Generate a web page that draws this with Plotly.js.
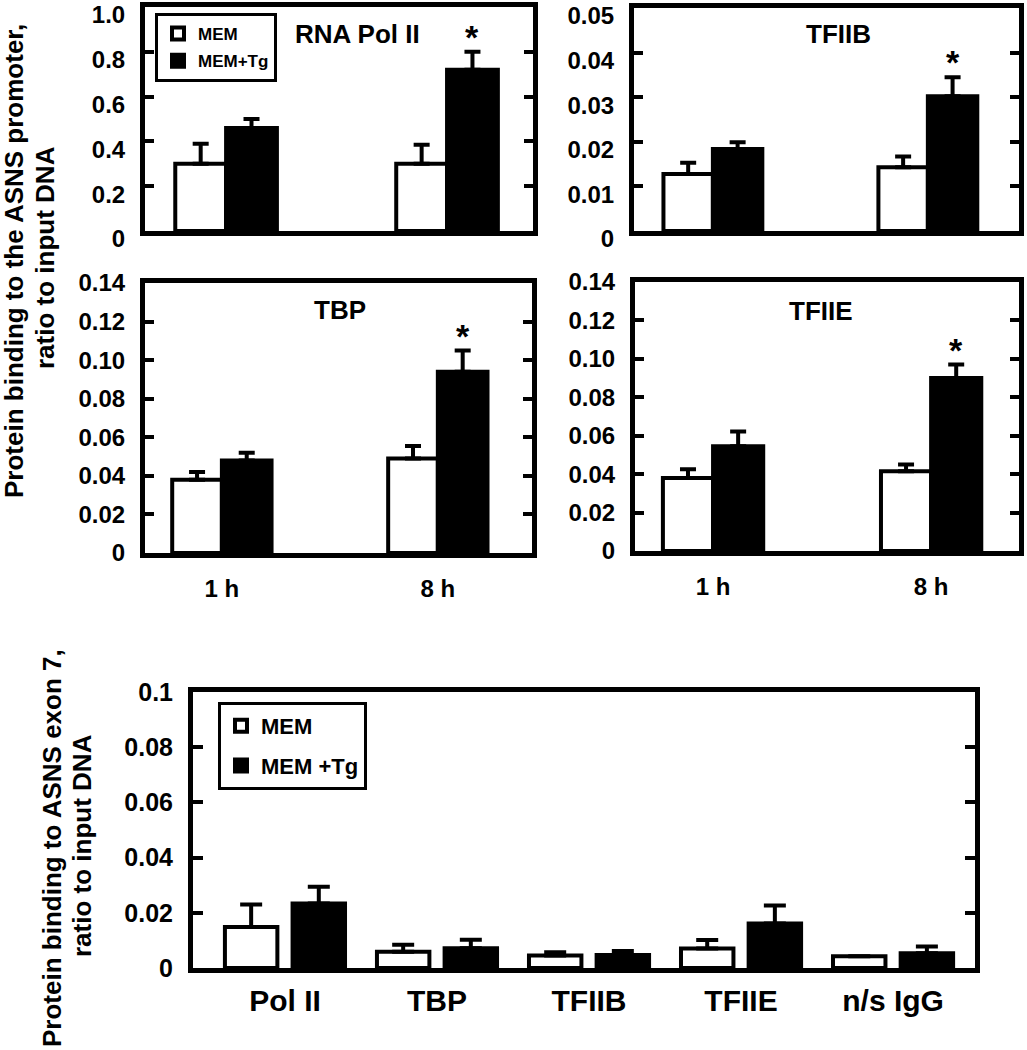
<!DOCTYPE html>
<html>
<head>
<meta charset="utf-8">
<script src="https://cdn.plot.ly/plotly-3.0.1.min.js"></script>
<style>html,body{margin:0;padding:0;background:#fff;}#chart{width:1027px;height:1050px;}</style>
</head>
<body>
<div id="chart"></div>
<script>
// ---------- DATA ----------
const times = ['1 h', '8 h'];

const polII_MEM = [0.30, 0.30];
const polII_MEM_err = [0.09, 0.085];
const polII_Tg = [0.46, 0.72];
const polII_Tg_err = [0.04, 0.08];

const tfiib_MEM = [0.0128, 0.0143];
const tfiib_MEM_err = [0.0025, 0.0024];
const tfiib_Tg = [0.0184, 0.0302];
const tfiib_Tg_err = [0.0015, 0.0043];

const tbp_MEM = [0.038, 0.049];
const tbp_MEM_err = [0.004, 0.0065];
const tbp_Tg = [0.048, 0.094];
const tbp_Tg_err = [0.004, 0.011];

const tfiie_MEM = [0.038, 0.0415];
const tfiie_MEM_err = [0.0046, 0.0035];
const tfiie_Tg = [0.0545, 0.090];
const tfiie_Tg_err = [0.0077, 0.007];

const significantTg = [false, true];   // asterisk above MEM+Tg bar

const factors = ['Pol II', 'TBP', 'TFIIB', 'TFIIE', 'n/s IgG'];
const exon_MEM = [0.0149, 0.0059, 0.0045, 0.0071, 0.0043];
const exon_MEM_err = [0.0081, 0.0025, 0.0012, 0.003, 0];
const exon_Tg = [0.0234, 0.0072, 0.0047, 0.0161, 0.0053];
const exon_Tg_err = [0.006, 0.003, 0.0015, 0.0065, 0.0025];

const ticks_polII = [0, 0.2, 0.4, 0.6, 0.8, 1.0];
const ticks_polII_text = ['0', '0.2', '0.4', '0.6', '0.8', '1.0'];
const ticks_tfiib = [0, 0.01, 0.02, 0.03, 0.04, 0.05];
const ticks_tfiib_text = ['0', '0.01', '0.02', '0.03', '0.04', '0.05'];
const ticks_014 = [0, 0.02, 0.04, 0.06, 0.08, 0.10, 0.12, 0.14];
const ticks_014_text = ['0', '0.02', '0.04', '0.06', '0.08', '0.10', '0.12', '0.14'];
const ticks_exon = [0, 0.02, 0.04, 0.06, 0.08, 0.1];
const ticks_exon_text = ['0', '0.02', '0.04', '0.06', '0.08', '0.1'];

// ---------- LAYOUT HELPERS ----------
const W = 1027, H = 1050;
const FONT = 'Liberation Sans, Arial, Helvetica, sans-serif';
const px = v => v / W;
const py = v => 1 - v / H;

const panels = [
  {title: 'RNA Pol II', mem: polII_MEM, memErr: polII_MEM_err, tg: polII_Tg, tgErr: polII_Tg_err,
   tv: ticks_polII, tt: ticks_polII_text, ymax: 1.0, xd: [145, 533], yd: [7, 231], xr: [-0.367, 1.389],
   showX: false, tpos: [357, 34], lshift: 8},
  {title: 'TFIIB', mem: tfiib_MEM, memErr: tfiib_MEM_err, tg: tfiib_Tg, tgErr: tfiib_Tg_err,
   tv: ticks_tfiib, tt: ticks_tfiib_text, ymax: 0.05, xd: [634, 1019], yd: [8, 231], xr: [-0.367, 1.424],
   showX: false, tpos: [838, 34], lshift: 8},
  {title: 'TBP', mem: tbp_MEM, memErr: tbp_MEM_err, tg: tbp_Tg, tgErr: tbp_Tg_err,
   tv: ticks_014, tt: ticks_014_text, ymax: 0.14, xd: [145, 532], yd: [283, 553], xr: [-0.356, 1.436],
   showX: true, tpos: [340, 310], lshift: 0},
  {title: 'TFIIE', mem: tfiie_MEM, memErr: tfiie_MEM_err, tg: tfiie_Tg, tgErr: tfiie_Tg_err,
   tv: ticks_014, tt: ticks_014_text, ymax: 0.14, xd: [635, 1019], yd: [282, 551], xr: [-0.358, 1.403],
   showX: true, tpos: [821, 311], lshift: 0}
];

const BW = 0.23;
const data = [];
const layout = {
  width: W, height: H,
  margin: {l: 0, r: 0, t: 0, b: 0},
  paper_bgcolor: 'white', plot_bgcolor: 'white',
  font: {family: FONT, color: 'black', weight: 'bold'},
  showlegend: true,
  annotations: [],
  legend: {
    x: px(155), y: py(13), xanchor: 'left', yanchor: 'top',
    bgcolor: 'white', bordercolor: 'black', borderwidth: 3,
    font: {family: FONT, size: 17, color: 'black', weight: 'bold'},
    itemwidth: 30, tracegroupgap: 2, traceorder: 'grouped'
  },
  legend2: {
    x: px(218), y: py(702), xanchor: 'left', yanchor: 'top',
    bgcolor: 'white', bordercolor: 'black', borderwidth: 3,
    font: {family: FONT, size: 22, color: 'black', weight: 'bold'},
    itemwidth: 30, tracegroupgap: 8, traceorder: 'grouped'
  }
};

function axisStyles(i, p) {
  const sfx = i === 0 ? '' : String(i + 1);
  layout['xaxis' + sfx] = {
    domain: [px(p.xd[0]), px(p.xd[1])], anchor: 'y' + sfx,
    type: 'category', range: p.xr,
    showline: true, linecolor: 'black', linewidth: 5, mirror: true,
    ticks: '', showgrid: false, zeroline: false,
    showticklabels: p.showX, ticklabelstandoff: 10,
    tickfont: {family: FONT, size: 24, color: 'black', weight: 'bold'},
    fixedrange: true
  };
  layout['yaxis' + sfx] = {
    domain: [py(p.yd[1]), py(p.yd[0])], anchor: 'x' + sfx,
    range: [0, p.ymax],
    showline: true, linecolor: 'black', linewidth: 5, mirror: 'ticks',
    ticks: 'inside', ticklen: 9, tickwidth: 4, tickcolor: 'black',
    tickvals: p.tv, ticktext: p.tt, ticklabeloverflow: 'allow', ticklabelshift: p.lshift,
    showgrid: false, zeroline: false, ticklabelstandoff: 10,
    tickfont: {family: FONT, size: 24, color: 'black', weight: 'bold'},
    fixedrange: true
  };
  return sfx;
}

panels.forEach((p, i) => {
  const sfx = axisStyles(i, p);
  const xa = 'x' + sfx, ya = 'y' + sfx;
  data.push({
    type: 'bar', x: times, y: p.mem, xaxis: xa, yaxis: ya,
    name: 'MEM', legend: 'legend', legendgroup: 'mem', showlegend: i === 0,
    width: BW, offset: -BW,
    marker: {color: 'white', line: {color: 'black', width: 4}},
    error_y: {type: 'data', array: p.memErr, symmetric: false, color: 'black', thickness: 4, width: 8},
    hoverinfo: 'y'
  });
  data.push({
    type: 'bar', x: times, y: p.tg, xaxis: xa, yaxis: ya,
    name: 'MEM+Tg', legend: 'legend', legendgroup: 'tg', showlegend: i === 0,
    width: BW, offset: 0,
    marker: {color: 'black', line: {color: 'black', width: 4}},
    error_y: {type: 'data', array: p.tgErr, symmetric: false, color: 'black', thickness: 4, width: 8},
    hoverinfo: 'y'
  });
  // panel title
  layout.annotations.push({
    xref: 'paper', yref: 'paper', x: px(p.tpos[0]), y: py(p.tpos[1]),
    xanchor: 'center', yanchor: 'middle', showarrow: false, text: p.title,
    font: {family: FONT, size: 26, color: 'black', weight: 'bold'}
  });
  // significance asterisks
  significantTg.forEach((s, j) => {
    if (!s) return;
    layout.annotations.push({
      xref: xa, yref: ya, x: j + BW / 2, y: p.tg[j] + p.tgErr[j],
      xanchor: 'center', yanchor: 'bottom', showarrow: false, text: '*', yshift: -6,
      font: {family: FONT, size: 34, color: 'black', weight: 'bold'}
    });
  });
});

// bottom panel
layout.xaxis5 = {
  domain: [px(193), px(975)], anchor: 'y5', type: 'category', range: [-0.605, 4.539],
  showline: true, linecolor: 'black', linewidth: 5, mirror: true,
  ticks: '', showgrid: false, zeroline: false, ticklabelstandoff: 2,
  tickfont: {family: FONT, size: 30, color: 'black', weight: 'bold'}, fixedrange: true
};
layout.yaxis5 = {
  domain: [py(968), py(692)], anchor: 'x5', range: [0, 0.1],
  showline: true, linecolor: 'black', linewidth: 5, mirror: 'ticks',
  ticks: 'inside', ticklen: 10, tickwidth: 4, tickcolor: 'black',
  tickvals: ticks_exon, ticktext: ticks_exon_text, ticklabeloverflow: 'allow',
  showgrid: false, zeroline: false, ticklabelstandoff: 10,
  tickfont: {family: FONT, size: 25, color: 'black', weight: 'bold'}, fixedrange: true
};
data.push({
  type: 'bar', x: factors, y: exon_MEM, xaxis: 'x5', yaxis: 'y5',
  name: 'MEM', legend: 'legend2', legendgroup: 'mem2',
  width: 0.345, offset: -0.395,
  marker: {color: 'white', line: {color: 'black', width: 4}},
  error_y: {type: 'data', array: exon_MEM_err, symmetric: false, color: 'black', thickness: 4, width: 11},
  hoverinfo: 'y'
});
data.push({
  type: 'bar', x: factors, y: exon_Tg, xaxis: 'x5', yaxis: 'y5',
  name: 'MEM +Tg', legend: 'legend2', legendgroup: 'tg2',
  width: 0.345, offset: 0.05,
  marker: {color: 'black', line: {color: 'black', width: 4}},
  error_y: {type: 'data', array: exon_Tg_err, symmetric: false, color: 'black', thickness: 4, width: 11},
  hoverinfo: 'y'
});

// y-axis titles (two lines each)
const yTitleFont = {family: FONT, size: 26, color: 'black', weight: 'bold'};
layout.annotations.push(
  {xref: 'paper', yref: 'paper', x: px(14), y: py(261), xanchor: 'center', yanchor: 'middle',
   textangle: -90, showarrow: false, text: 'Protein binding to the ASNS promoter,', font: yTitleFont},
  {xref: 'paper', yref: 'paper', x: px(45), y: py(258), xanchor: 'center', yanchor: 'middle',
   textangle: -90, showarrow: false, text: 'ratio to input DNA', font: yTitleFont},
  {xref: 'paper', yref: 'paper', x: px(52), y: py(848), xanchor: 'center', yanchor: 'middle',
   textangle: -90, showarrow: false, text: 'Protein binding to ASNS exon 7,', font: yTitleFont},
  {xref: 'paper', yref: 'paper', x: px(82), y: py(846), xanchor: 'center', yanchor: 'middle',
   textangle: -90, showarrow: false, text: 'ratio to input DNA', font: yTitleFont}
);

Plotly.newPlot('chart', data, layout, {displayModeBar: false, staticPlot: true});
</script>
</body>
</html>
